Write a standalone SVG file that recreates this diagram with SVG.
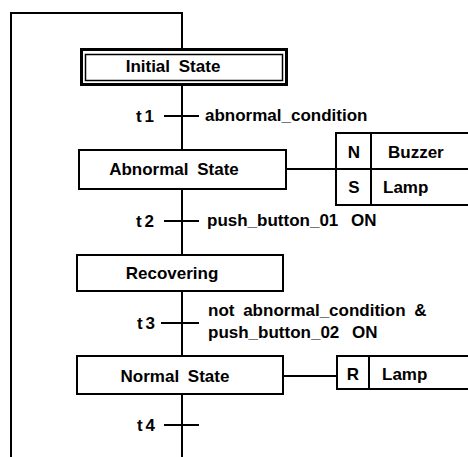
<svg xmlns="http://www.w3.org/2000/svg" width="468" height="457" viewBox="0 0 468 457">
<style>
  .ln { stroke: #000; stroke-width: 2; fill: none; }
  .box { stroke: #000; stroke-width: 2; fill: #fff; }
  text { font-family: "Liberation Sans", Arial, Helvetica, sans-serif; font-size: 17px; font-weight: bold; fill: #000; word-spacing: 4px; }
  .c { text-anchor: middle; }
  .tl { text-anchor: end; letter-spacing: 3px; }
</style>
<rect width="468" height="457" fill="#fff"/>
<g id="connectors">
  <polyline class="ln" points="11,457 11,13 182,13 182,49"/>
  <line class="ln" x1="182" y1="84" x2="182" y2="150"/>
  <line class="ln" x1="182" y1="189" x2="182" y2="255"/>
  <line class="ln" x1="182" y1="291" x2="182" y2="356"/>
  <line class="ln" x1="182" y1="394" x2="182" y2="457"/>
  <line class="ln" x1="286" y1="169" x2="336" y2="169"/>
  <line class="ln" x1="283" y1="376" x2="337" y2="376"/>
</g>
<g id="t1">
  <line class="ln" x1="164" y1="116" x2="199" y2="116"/>
  <text class="tl" x="157" y="122">t1</text>
  <text x="205" y="121">abnormal_condition</text>
</g>
<g id="t2">
  <line class="ln" x1="164" y1="221" x2="199" y2="221"/>
  <text class="tl" x="157" y="227">t2</text>
  <text x="207" y="226" style="word-spacing:8px">push_button_01 ON</text>
</g>
<g id="t3">
  <line class="ln" x1="161" y1="323" x2="199" y2="323"/>
  <text class="tl" x="158" y="329">t3</text>
  <text x="208" y="316">not abnormal_condition &amp;</text>
  <text x="208" y="338" style="word-spacing:8px">push_button_02 ON</text>
</g>
<g id="t4">
  <line class="ln" x1="164" y1="425" x2="199" y2="425"/>
  <text class="tl" x="158" y="431">t4</text>
</g>
<g id="initial-state">
  <rect x="81.5" y="49.5" width="205" height="35" fill="#fff" stroke="#000" stroke-width="3"/>
  <rect x="85.5" y="54.5" width="197" height="26" fill="none" stroke="#000" stroke-width="1.5"/>
  <text class="c" x="173" y="72">Initial State</text>
</g>
<g id="abnormal-state">
  <rect class="box" x="79" y="150" width="207" height="39"/>
  <text class="c" x="174" y="175">Abnormal State</text>
</g>
<g id="abnormal-actions">
  <polyline class="ln" points="468,133 336,133 336,205 468,205"/>
  <line class="ln" x1="336" y1="169" x2="468" y2="169"/>
  <line class="ln" x1="371" y1="133" x2="371" y2="205"/>
  <text class="c" x="354" y="158">N</text>
  <text x="388" y="158">Buzzer</text>
  <text class="c" x="354" y="193">S</text>
  <text x="383" y="193">Lamp</text>
</g>
<g id="recovering">
  <rect class="box" x="77" y="255" width="206" height="36"/>
  <text class="c" x="172" y="279">Recovering</text>
</g>
<g id="normal-state">
  <rect class="box" x="77" y="356" width="206" height="38"/>
  <text class="c" x="175" y="382">Normal State</text>
</g>
<g id="normal-actions">
  <polyline class="ln" points="468,356 337,356 337,389 468,389"/>
  <line class="ln" x1="369" y1="356" x2="369" y2="389"/>
  <text class="c" x="353" y="380">R</text>
  <text x="382" y="380">Lamp</text>
</g>
</svg>
